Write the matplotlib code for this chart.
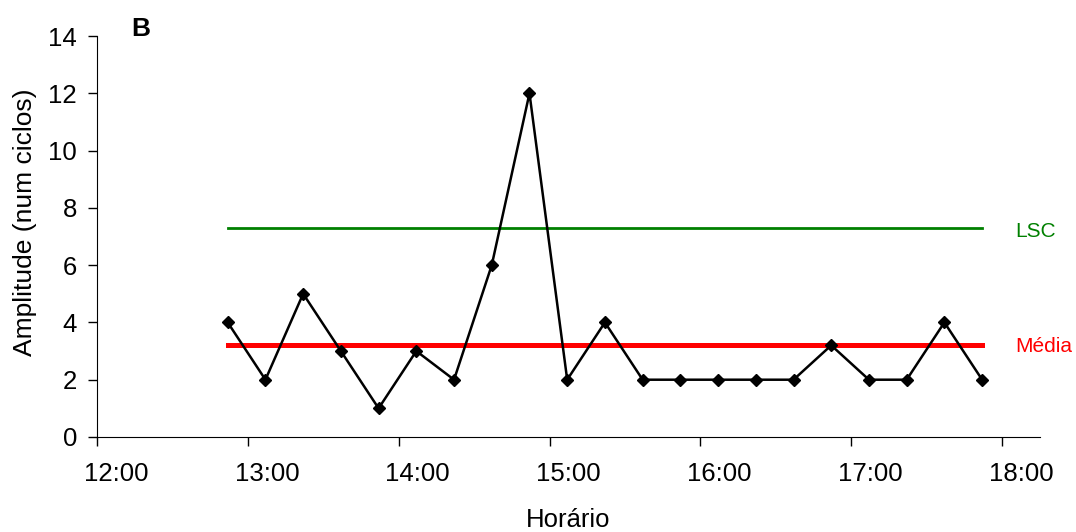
import matplotlib
matplotlib.use('Agg')
import matplotlib.pyplot as plt
import matplotlib.dates as mdates
from matplotlib.transforms import ScaledTranslation
import pandas as pd

plt.rcParams['font.family'] = ['Liberation Sans', 'DejaVu Sans']

# dados (amplitude por horário)
horarios = ["12:52", "13:07", "13:22", "13:37", "13:52", "14:07", "14:22",
            "14:37", "14:52", "15:07", "15:22", "15:37", "15:52", "16:07",
            "16:22", "16:37", "16:52", "17:07", "17:22", "17:37", "17:52"]
amplitude = [4, 2, 5, 3, 1, 3, 2, 6, 12, 2, 4, 2, 2, 2, 2, 2, 3.2, 2, 2, 4, 2]
media = 3.2
lsc = 7.3

t = pd.to_datetime(["2000-01-01 " + h for h in horarios])
t_ini = pd.Timestamp("2000-01-01 12:00")
t_fim = pd.Timestamp("2000-01-01 18:15")

fig = plt.figure(figsize=(10.76, 5.32), dpi=100)
ax = fig.add_axes([0.0901, 0.1786, 0.8764, 0.7537])

ax.plot([t[0], t[-1]], [lsc, lsc], color='#008000', linewidth=2.0, zorder=2)
ax.plot([t[0], t[-1]], [media, media], color='#ff0000', linewidth=3.6, zorder=2)
ax.plot(t, amplitude, color='black', linewidth=1.8, marker='D', markersize=6,
        zorder=3)

# rótulos das linhas de controle, fora da área do eixo
ax.text(0.9735, lsc - 0.12, 'LSC', transform=ax.get_yaxis_transform(),
        color='#008000', fontsize=15, va='center', ha='left', clip_on=False)
ax.text(0.9735, media - 0.05, 'Média', transform=ax.get_yaxis_transform(),
        color='#ff0000', fontsize=15, va='center', ha='left', clip_on=False)

ax.set_xlim(t_ini, t_fim)
ax.set_ylim(0, 14)
ax.set_yticks(range(0, 15, 2))
ax.xaxis.set_major_locator(mdates.HourLocator())
ax.xaxis.set_major_formatter(mdates.DateFormatter('%H:%M'))

for s in ['top', 'right']:
    ax.spines[s].set_visible(False)
ax.tick_params(axis='both', labelsize=18.5, length=6.3, width=1)
ax.tick_params(axis='x', pad=12)
ax.tick_params(axis='y', pad=8)

# rótulos do eixo x deslocados para a direita
offset = ScaledTranslation(0.19, 0, fig.dpi_scale_trans)
for lab in ax.get_xticklabels():
    lab.set_transform(lab.get_transform() + offset)

fig.text(568.5 / 1076, 1 - 520 / 532, 'Horário', fontsize=18.5,
         ha='center', va='center')
fig.text(25 / 1076, 1 - 222 / 532, 'Amplitude (num ciclos)', fontsize=19,
         rotation=90, ha='center', va='center')
fig.text(131 / 1076, 1 - 28.5 / 532, 'B', fontsize=19, fontweight='bold',
         ha='left', va='center')

fig.savefig('out.png', dpi=100)
